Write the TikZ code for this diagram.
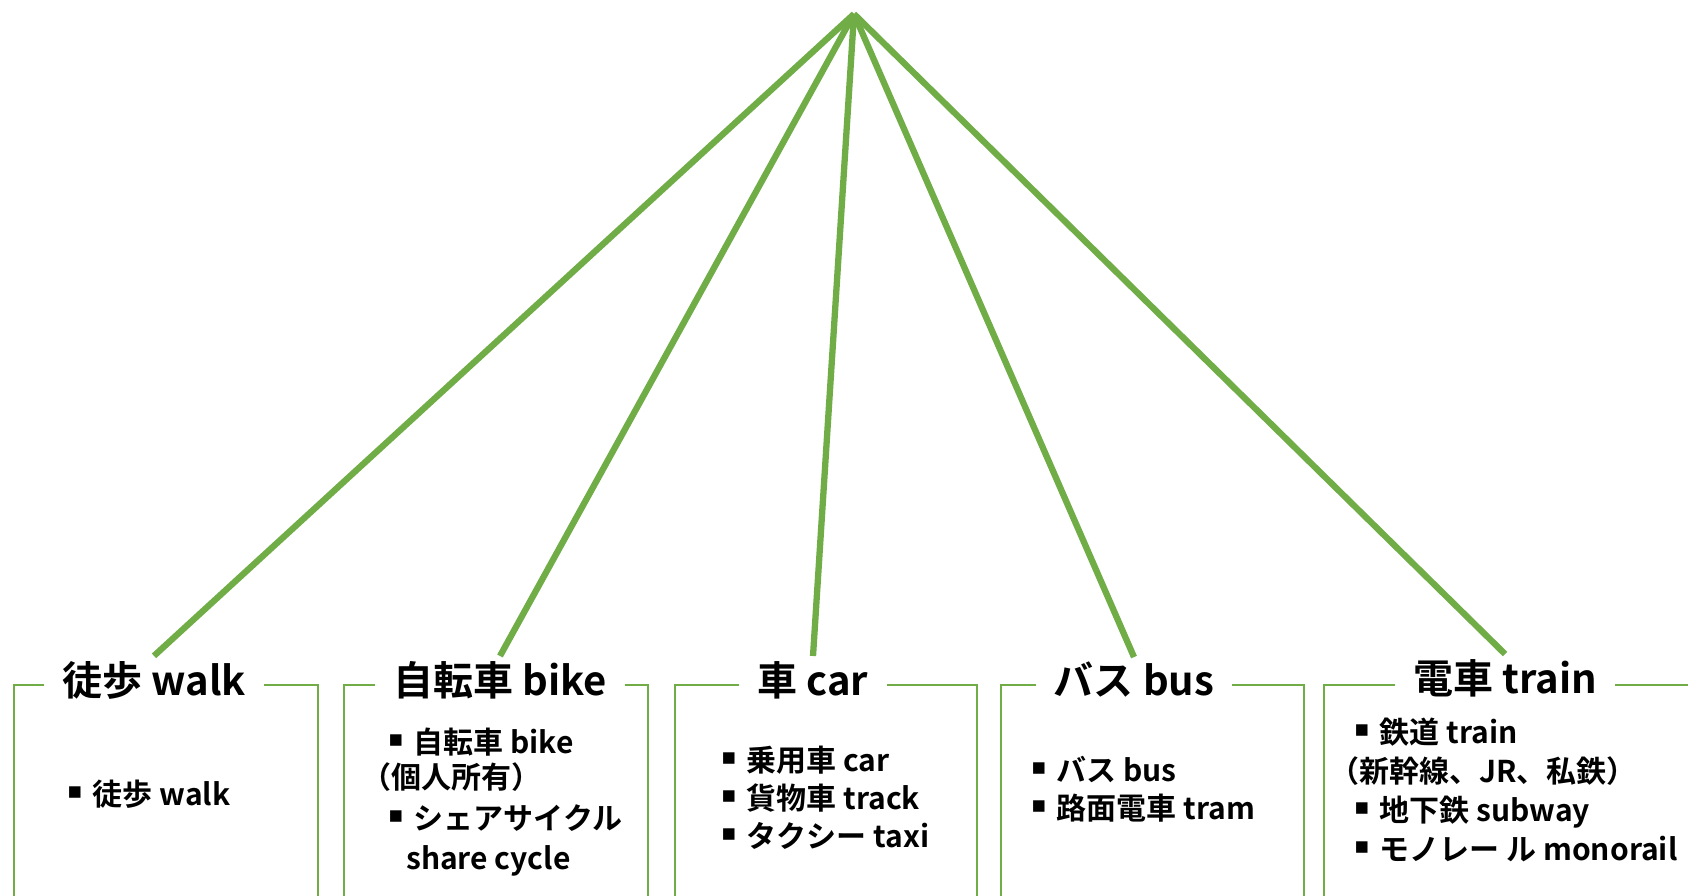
\documentclass[tikz,border=0pt]{standalone}
\usepackage{fontspec}
\newfontfamily\jp{Noto Sans CJK JP}[BoldFont={Noto Sans CJK JP Bold}]
\newfontfamily\symf{DejaVu Sans}
\definecolor{lgreen}{HTML}{70AD47}
\newcommand{\bul}{\raisebox{0.22em}{\symf\fontsize{23}{23}\selectfont ▪}\hspace{0.33em}}
\begin{document}
\begin{tikzpicture}[x=1pt,y=-1pt,
  spoke/.style={draw=lgreen,line width=6.3pt},
  frame/.style={draw=lgreen,line width=2.4pt},
  ttl/.style={font=\jp\bfseries\fontsize{40}{42}\selectfont,inner xsep=18pt,inner ysep=5pt,anchor=center},
  item/.style={font=\jp\bfseries\fontsize{30}{34}\selectfont,anchor=base west,inner sep=0pt}]
\useasboundingbox (0,0) rectangle (1688,895);
\fill[white] (0,0) rectangle (1688,895);
\coordinate (apex) at (854,14);
% titles
\node[ttl] (t1) at (154,680) {徒歩 walk};
\node[ttl] (t2) at (500,680) {自転車 bike};
\node[ttl] (t3) at (813,680) {車 car};
\node[ttl] (t4) at (1134,680) {バス bus};
\node[ttl] (t5) at (1505,678) {電車 train};
% spokes
\foreach \t in {t1,t2,t3,t4,t5} \draw[spoke] (apex) -- (\t.north);
% frames
\foreach \t/\l/\r in {t1/14/318, t2/344/648, t3/675/977, t4/1001/1304, t5/1324/1720}{
  \coordinate (\t tl) at (\l,685);
  \coordinate (\t tr) at (\r,685);
  \coordinate (\t bl) at (\l,900);
  \coordinate (\t br) at (\r,900);
  \draw[frame] (\t.west |- \t tl) -- (\t tl) -- (\t bl);
  \draw[frame] (\t.east |- \t tr) -- (\t tr) -- (\t br);
}
% items
\node[item] (a1) at (67,805) {\bul 徒歩 walk};
\node[item] (b1) at (388,753) {\bul 自転車 bike};
\node[item] (b2) at (361,788) {（個人所有）};
\node[item] (b3) at (388,829) {\bul シェアサイクル};
\node[item] (b4) at (406,869) {share cycle};
\node[item] (c1) at (721,771) {\bul 乗用車 car};
\node[item] (c2) at (721,809) {\bul 貨物車 track};
\node[item] (c3) at (721,847) {\bul タクシー taxi};
\node[item] (d1) at (1031,781) {\bul バス bus};
\node[item] (d2) at (1031,819) {\bul 路面電車 tram};
\node[item] (e1) at (1354,743) {\bul 鉄道 train};
\node[item] (e2) at (1329,782) {（新幹線、JR、私鉄）};
\node[item] (e3) at (1354,821) {\bul 地下鉄 subway};
\node[item] (e4) at (1354,860) {\bul モノレー ル monorail};
\end{tikzpicture}
\end{document}
